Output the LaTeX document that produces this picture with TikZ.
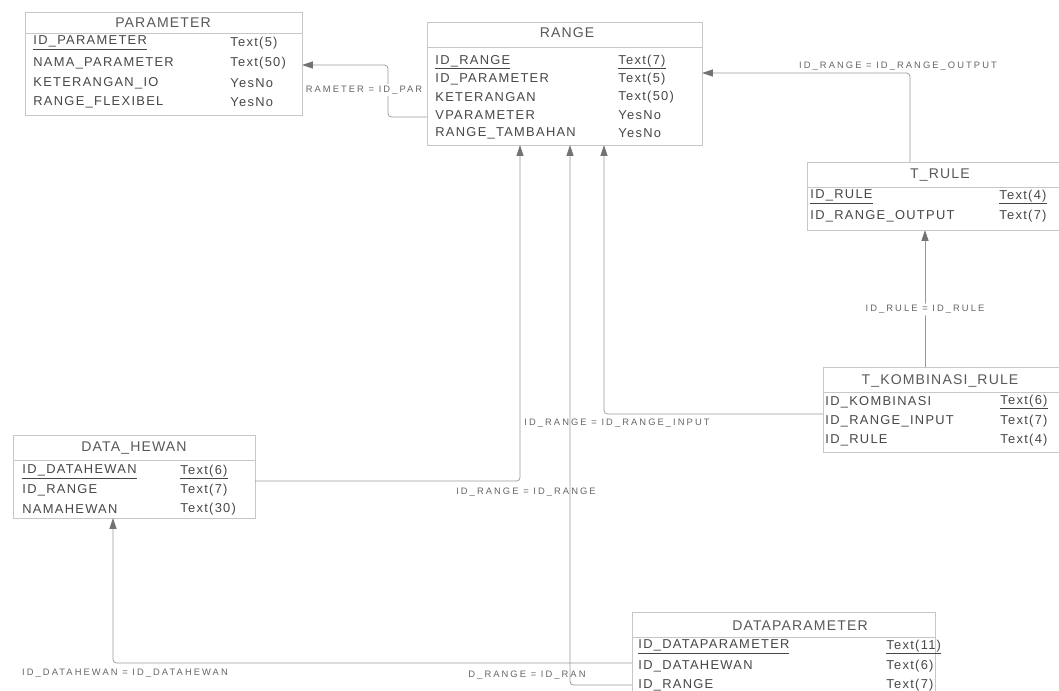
\documentclass[tikz,border=0pt]{standalone}
\usepackage{fontspec}
\setmainfont{Liberation Sans}
\newfontfamily\ttlfont[LetterSpace=8]{Liberation Sans}
\newfontfamily\fldfont[LetterSpace=10]{Liberation Sans}
\newfontfamily\lblfont[LetterSpace=22]{Liberation Sans}
\usetikzlibrary{arrows.meta, positioning}

\begin{document}
\begin{tikzpicture}[
    x=0.03cm, y=-0.03cm,
    tbl/.style={rectangle, draw=black!22, inner sep=0pt},
    sep/.style={draw=black!22},
    title/.style={font=\ttlfont\fontsize{12}{14}\selectfont, text=black!65},
    fld/.style={anchor=west, inner sep=1pt, font=\fldfont\fontsize{11}{13}\selectfont, text=black!72},
    rel/.style={draw=black!40, line width=0.6pt, rounded corners=3pt, -{Triangle[length=9pt, width=6pt, color=black!55]}},
    lbl/.style={font=\lblfont\fontsize{8}{9}\selectfont, inner sep=1.5pt, text=black!60},
]
\clip (0,0) rectangle (1059,690);
\fill[white] (0,0) rectangle (1059,690);

% tables
\node[tbl, minimum width=8.31cm, minimum height=3.09cm] (parameter) at (163.5,63.5) {};
\node[tbl, minimum width=8.25cm, minimum height=3.69cm] (range)     at (564.5,83.5) {};
\node[tbl, minimum width=7.68cm, minimum height=2.04cm] (trule)     at (935,196) {};
\node[tbl, minimum width=7.20cm, minimum height=2.55cm] (tkomb)     at (943,409.5) {};
\node[tbl, minimum width=7.26cm, minimum height=2.49cm] (dhewan)    at (134,476.5) {};
\node[tbl, minimum width=9.09cm, minimum height=2.79cm] (dpar)      at (783.5,658.5) {};

\draw[sep] (25,33) -- (302,33);
\draw[sep] (427,47) -- (702,47);
\draw[sep] (807,187) -- (1063,187);
\draw[sep] (823,392) -- (1063,392);
\draw[sep] (13,460) -- (255,460);
\draw[sep] (632,637) -- (935,637);

\node[title] (parameter-t) at (163,23)  {PARAMETER};
\node[title] (range-t)     at (567,33)  {RANGE};
\node[title] (trule-t)     at (940,175) {T\_RULE};
\node[title] (tkomb-t)     at (940,381) {T\_KOMBINASI\_RULE};
\node[title] (dhewan-t)    at (134,448) {DATA\_HEWAN};
\node[title] (dpar-t)      at (800,626) {DATAPARAMETER};

% PARAMETER
\node[fld] (par-id)   at (32,43)  {\underline{ID\_PARAMETER}};
\node[fld] (par-nama) at (32,63)  {NAMA\_PARAMETER};
\node[fld] (par-ket)  at (32,83)  {KETERANGAN\_IO};
\node[fld] (par-flex) at (32,102) {RANGE\_FLEXIBEL};
\node[fld] (par-id-ty)   at (229,43)  {Text(5)};
\node[fld] (par-nama-ty) at (229,63)  {Text(50)};
\node[fld] (par-ket-ty)  at (229,83)  {YesNo};
\node[fld] (par-flex-ty) at (229,102) {YesNo};

% RANGE
\node[fld] (rng-id)   at (434,62)  {\underline{ID\_RANGE}};
\node[fld] (rng-par)  at (434,79)  {ID\_PARAMETER};
\node[fld] (rng-ket)  at (434,97)  {KETERANGAN};
\node[fld] (rng-vpar) at (434,115) {VPARAMETER};
\node[fld] (rng-tamb) at (434,133) {RANGE\_TAMBAHAN};
\node[fld] (rng-id-ty)   at (617,62)  {\underline{Text(7)}};
\node[fld] (rng-par-ty)  at (617,79)  {Text(5)};
\node[fld] (rng-ket-ty)  at (617,97)  {Text(50)};
\node[fld] (rng-vpar-ty) at (617,115) {YesNo};
\node[fld] (rng-tamb-ty) at (617,133) {YesNo};

% T_RULE
\node[fld] (tr-id)  at (809,197) {\underline{ID\_RULE}};
\node[fld] (tr-out) at (809,216) {ID\_RANGE\_OUTPUT};
\node[fld] (tr-id-ty)  at (998,197) {\underline{Text(4)}};
\node[fld] (tr-out-ty) at (998,216) {Text(7)};

% T_KOMBINASI_RULE
\node[fld] (tk-id)    at (824,402) {ID\_KOMBINASI};
\node[fld] (tk-input) at (824,421) {ID\_RANGE\_INPUT};
\node[fld] (tk-rule)  at (824,440) {ID\_RULE};
\node[fld] (tk-id-ty)    at (999,402) {\underline{Text(6)}};
\node[fld] (tk-input-ty) at (999,421) {Text(7)};
\node[fld] (tk-rule-ty)  at (999,440) {Text(4)};

% DATA_HEWAN
\node[fld] (dh-id)    at (21,472) {\underline{ID\_DATAHEWAN}};
\node[fld] (dh-range) at (21,490) {ID\_RANGE};
\node[fld] (dh-nama)  at (21,509) {NAMAHEWAN};
\node[fld] (dh-id-ty)    at (179,472) {\underline{Text(6)}};
\node[fld] (dh-range-ty) at (179,490) {Text(7)};
\node[fld] (dh-nama-ty)  at (179,509) {Text(30)};

% DATAPARAMETER
\node[fld] (dp-id)     at (637,647) {\underline{ID\_DATAPARAMETER}};
\node[fld] (dp-hewan)  at (637,666) {ID\_DATAHEWAN};
\node[fld] (dp-range)  at (637,685) {ID\_RANGE};
\node[fld] (dp-id-ty)    at (885,647) {\underline{Text(11)}};
\node[fld] (dp-hewan-ty) at (885,666) {Text(6)};
\node[fld] (dp-range-ty) at (885,685) {Text(7)};

% relationships
\coordinate (k1a) at (427,117);
\coordinate (k1b) at (388,65);
\coordinate (k2)  at (910,73);
\coordinate (k3)  at (925,0);
\coordinate (k4)  at (520,481);
\coordinate (k5)  at (570,0);
\coordinate (k6)  at (604,414);
\coordinate (k7)  at (113,663);

\draw[rel] (k1a) -| (k1b) -- (parameter.east |- k1b);
\draw[rel] (trule.north -| k2) |- (range.east |- k2);
\draw[rel] (tkomb.north -| k3) -- node[lbl, fill=white, pos=0.42] (l-rule) {ID\_RULE = ID\_RULE} (trule.south -| k3);
\draw[rel] (dhewan.east |- k4) -| (range.south -| k4);
\draw[rel] (dpar.west |- dp-range) -| (range.south -| k5);
\draw[rel] (tkomb.west |- k6) -| (range.south -| k6);
\draw[rel] (dpar.west |- k7) -| (dhewan.south -| k7);

\node[lbl, fill=white] (l-par) at (364,90)  {RAMETER = ID\_PAR};
\node[lbl, fill=white] (l-out) at (898,66)  {ID\_RANGE = ID\_RANGE\_OUTPUT};
\node[lbl] (l-input) at (617,423) {ID\_RANGE = ID\_RANGE\_INPUT};
\node[lbl] (l-hewan) at (526,492) {ID\_RANGE = ID\_RANGE};
\node[lbl] (l-dpar)  at (527,675) {D\_RANGE = ID\_RAN};
\node[lbl] (l-dh)    at (125,673) {ID\_DATAHEWAN = ID\_DATAHEWAN};

\end{tikzpicture}
\end{document}
